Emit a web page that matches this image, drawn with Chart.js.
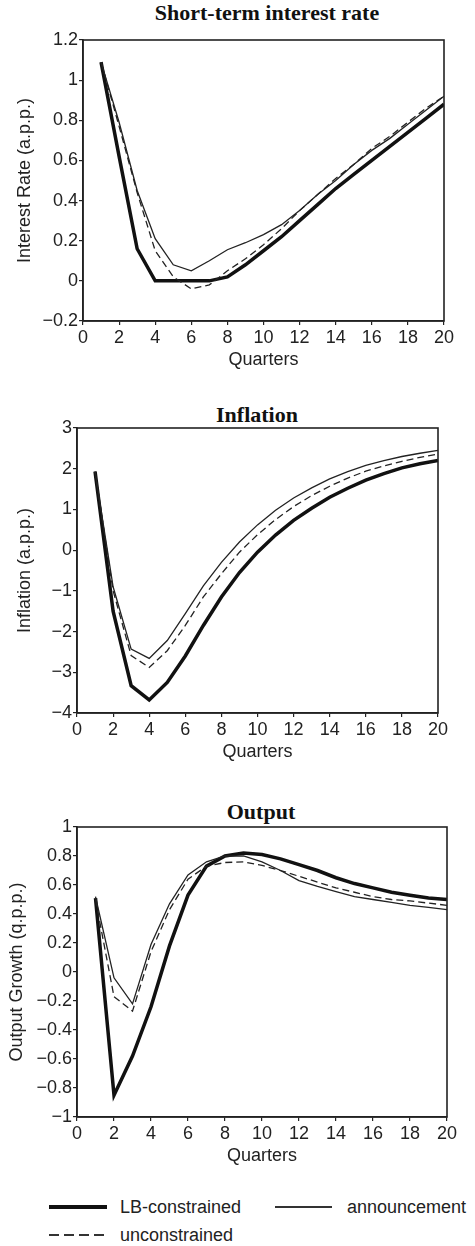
<!DOCTYPE html>
<html lang="en">
<head>
    <meta charset="UTF-8">
    <title>Impulse responses</title>
    <script src="https://cdn.jsdelivr.net/npm/chart.js"></script>
    <style>
        body { margin: 0; background: #fff; width: 475px; height: 1246px; position: relative; overflow: hidden; }
        canvas { position: absolute; left: 0; }
        .ttl { position: absolute; font: bold 22px "Liberation Serif", "Times New Roman", serif; color: #111; transform: translate(-50%, -50%); white-space: nowrap; }
        .lg-text { position: absolute; font: 18px "Liberation Sans", Arial, sans-serif; color: #222; transform: translateY(-50%); white-space: nowrap; }
        .lg-line { position: absolute; }
    </style>
</head>
<body>
    <div class="ttl" style="left:267px; top:13px;">Short-term interest rate</div>
    <div class="ttl" style="left:257px; top:415px;">Inflation</div>
    <div class="ttl" style="left:261px; top:812px;">Output</div>

    <canvas id="rateChart" width="475" height="372" style="top:0px"></canvas>
    <canvas id="inflChart" width="475" height="392" style="top:372px"></canvas>
    <canvas id="outChart" width="475" height="404" style="top:764px"></canvas>

    <!-- legend -->
    <div class="lg-line" style="left:49px; top:1205px; width:58px; height:4px; background:#111;"></div>
    <div class="lg-text" style="left:120px; top:1207px;">LB-constrained</div>
    <div class="lg-line" style="left:275px; top:1206px; width:57px; height:1.5px; background:#333;"></div>
    <div class="lg-text" style="left:347px; top:1207px;">announcement</div>
    <div class="lg-line" style="left:49px; top:1234px; width:58px; height:1.5px; background:repeating-linear-gradient(to right, #333 0 10px, transparent 10px 15px);"></div>
    <div class="lg-text" style="left:120px; top:1235px;">unconstrained</div>

    <script>
        const quarters = [1, 2, 3, 4, 5, 6, 7, 8, 9, 10, 11, 12, 13, 14, 15, 16, 17, 18, 19, 20];
        const quarterTicks = [0, 2, 4, 6, 8, 10, 12, 14, 16, 18, 20];

        // Short-term interest rate (a.p.p.)
        const rateLB = [1.09, 0.62, 0.16, 0, 0, 0, 0, 0.02, 0.08, 0.15, 0.22, 0.30, 0.38, 0.46, 0.53, 0.60, 0.67, 0.74, 0.81, 0.88];
        const rateAnn = [1.09, 0.79, 0.45, 0.21, 0.08, 0.05, 0.10, 0.155, 0.19, 0.23, 0.28, 0.35, 0.43, 0.50, 0.58, 0.65, 0.71, 0.78, 0.85, 0.92];
        const rateUnc = [1.09, 0.77, 0.44, 0.15, 0.02, -0.04, -0.02, 0.05, 0.11, 0.18, 0.26, 0.35, 0.43, 0.51, 0.58, 0.66, 0.72, 0.79, 0.86, 0.92];
        const rateTicks = [-0.2, 0, 0.2, 0.4, 0.6, 0.8, 1, 1.2];

        // Inflation (a.p.p.)
        const inflLB = [1.93, -1.5, -3.33, -3.68, -3.25, -2.6, -1.85, -1.15, -0.55, -0.05, 0.37, 0.73, 1.03, 1.3, 1.52, 1.72, 1.88, 2.02, 2.12, 2.2];
        const inflAnn = [1.93, -0.9, -2.43, -2.66, -2.22, -1.56, -0.88, -0.3, 0.2, 0.62, 0.98, 1.28, 1.53, 1.75, 1.93, 2.08, 2.2, 2.3, 2.38, 2.45];
        const inflUnc = [1.93, -1.0, -2.59, -2.88, -2.47, -1.85, -1.15, -0.58, -0.05, 0.38, 0.75, 1.07, 1.34, 1.57, 1.77, 1.94, 2.07, 2.18, 2.28, 2.36];
        const inflTicks = [-4, -3, -2, -1, 0, 1, 2, 3];

        // Output growth (q.p.p.)
        const outLB = [0.51, -0.85, -0.58, -0.24, 0.18, 0.53, 0.73, 0.80, 0.82, 0.81, 0.78, 0.74, 0.70, 0.65, 0.61, 0.58, 0.55, 0.53, 0.51, 0.50];
        const outAnn = [0.52, -0.04, -0.22, 0.19, 0.47, 0.67, 0.76, 0.80, 0.80, 0.76, 0.70, 0.63, 0.59, 0.555, 0.52, 0.50, 0.48, 0.46, 0.445, 0.43];
        const outUnc = [0.50, -0.17, -0.27, 0.14, 0.43, 0.64, 0.73, 0.755, 0.76, 0.735, 0.70, 0.66, 0.62, 0.58, 0.55, 0.52, 0.50, 0.49, 0.475, 0.46];
        const outTicks = [-1, -0.8, -0.6, -0.4, -0.2, 0, 0.2, 0.4, 0.6, 0.8, 1];

        const sansFont = { family: '"Liberation Sans", Arial, sans-serif', size: 18 };
        const axisColor = '#222';

        function fmt(v) {
            return String(Math.round(v * 10) / 10).replace('-', '\u2212');
        }

        function pts(arr) {
            return quarters.map((q, i) => ({ x: q, y: arr[i] }));
        }

        // box round the plot area
        const frame = {
            id: 'frame',
            afterDatasetsDraw(chart) {
                const a = chart.chartArea;
                const ctx = chart.ctx;
                ctx.save();
                ctx.strokeStyle = axisColor;
                ctx.lineWidth = 1.6;
                ctx.strokeRect(a.left, a.top, a.right - a.left, a.bottom - a.top);
                ctx.restore();
            }
        };

        function makeChart(id, lb, ann, unc, yTicks, yTitle, cfg) {
            return new Chart(document.getElementById(id), {
                type: 'line',
                data: {
                    datasets: [
                        { label: 'announcement', data: pts(ann), borderColor: '#222', borderWidth: 1.3, pointRadius: 0, tension: 0 },
                        { label: 'unconstrained', data: pts(unc), borderColor: '#222', borderWidth: 1.3, borderDash: [7, 4], pointRadius: 0, tension: 0 },
                        { label: 'LB-constrained', data: pts(lb), borderColor: '#111', borderWidth: 3.5, pointRadius: 0, tension: 0 },
                    ]
                },
                options: {
                    responsive: false,
                    animation: false,
                    devicePixelRatio: 1,
                    layout: { padding: { top: cfg.top, right: cfg.right, left: 0, bottom: 0 } },
                    plugins: { legend: { display: false }, tooltip: { enabled: false } },
                    scales: {
                        x: {
                            type: 'linear',
                            min: 0,
                            max: 20,
                            afterBuildTicks: s => { s.ticks = quarterTicks.map(v => ({ value: v })); },
                            afterFit: s => { s.height = 51; },
                            grid: { display: true, drawOnChartArea: false, drawTicks: true, tickLength: 4, color: axisColor, lineWidth: 1.2 },
                            border: { display: true, color: axisColor, width: 1.6 },
                            ticks: { font: sansFont, color: '#222', padding: 2, maxRotation: 0, callback: v => fmt(v) },
                            title: { display: true, text: 'Quarters', font: sansFont, color: '#222', padding: { top: 0, bottom: 1 } },
                        },
                        y: {
                            min: yTicks[0],
                            max: yTicks[yTicks.length - 1],
                            afterBuildTicks: s => { s.ticks = yTicks.map(v => ({ value: v })); },
                            afterFit: s => { s.width = cfg.left; },
                            grid: { display: true, drawOnChartArea: false, drawTicks: true, tickLength: 4, color: axisColor, lineWidth: 1.2 },
                            border: { display: true, color: axisColor, width: 1.6 },
                            ticks: { font: sansFont, color: '#222', padding: 1, callback: v => fmt(v) },
                            title: { display: true, text: yTitle, font: sansFont, color: '#222', padding: { top: cfg.titleX, bottom: 0 } },
                        }
                    }
                },
                plugins: [frame]
            });
        }

        makeChart('rateChart', rateLB, rateAnn, rateUnc, rateTicks, 'Interest Rate (a.p.p.)', { top: 40, right: 31, left: 83, titleX: 14 });
        makeChart('inflChart', inflLB, inflAnn, inflUnc, inflTicks, 'Inflation (a.p.p.)', { top: 56, right: 37, left: 77, titleX: 14 });
        makeChart('outChart', outLB, outAnn, outUnc, outTicks, 'Output Growth (q.p.p.)', { top: 63, right: 28, left: 77, titleX: 6 });
    </script>
</body>
</html>
